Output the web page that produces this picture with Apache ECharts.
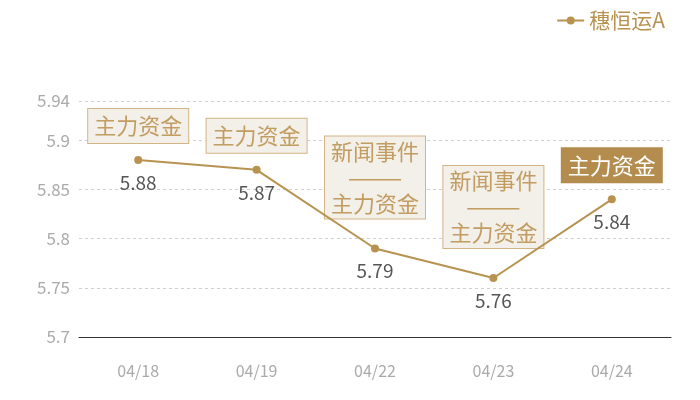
<!DOCTYPE html>
<html>
<head>
<meta charset="utf-8">
<script src="https://cdn.jsdelivr.net/npm/echarts@6/dist/echarts.min.js"></script>
<style>
  html, body { margin: 0; padding: 0; background: #fff; }
  #main { width: 700px; height: 400px; }
</style>
</head>
<body>
<div id="main"></div>
<script>
const dates = ['04/18', '04/19', '04/22', '04/23', '04/24'];
const prices = [5.88, 5.87, 5.79, 5.76, 5.84];
const notes = ['主力资金', '主力资金', '新闻事件\n———\n主力资金', '新闻事件\n———\n主力资金', '主力资金'];
const highlighted = [false, false, false, false, true];

const gold = '#b8924f';
const font = '"Noto Sans CJK SC", "Noto Sans", sans-serif';

// annotation boxes sit above each point
const noteData = prices.map((v, i) => {
    const multi = notes[i].indexOf('\n') >= 0;
    return {
        value: v,
        label: {
            formatter: notes[i],
            distance: multi ? 30 : 17,
            color: highlighted[i] ? '#fff' : '#c29c60',
            backgroundColor: highlighted[i] ? '#b38c4e' : '#f3f0ea',
            borderColor: highlighted[i] ? '#b38c4e' : '#d2b486',
            lineHeight: multi ? 26 : 30
        }
    };
});

const myChart = echarts.init(document.getElementById('main'));
const option = {
    animation: false,
    textStyle: { fontFamily: font },
    legend: {
        data: ['穗恒运A'],
        right: 30,
        top: 5,
        itemWidth: 27,
        itemHeight: 10,
        itemGap: 6,
        textStyle: { color: gold, fontSize: 21, fontFamily: font }
    },
    grid: { left: 79, right: 29, top: 101, bottom: 63 },
    xAxis: {
        type: 'category',
        data: dates,
        boundaryGap: true,
        axisLine: { lineStyle: { color: '#333', width: 1 } },
        axisTick: { show: false },
        axisLabel: { color: '#aaa', fontSize: 16, margin: 26, fontFamily: font }
    },
    yAxis: {
        type: 'value',
        min: 5.7,
        max: 5.94,
        interval: 0.05,
        axisLine: { show: false },
        axisTick: { show: false },
        axisLabel: {
            color: '#aaa', fontSize: 17, margin: 9, fontFamily: font,
            showMaxLabel: true
        },
        splitLine: { lineStyle: { color: '#d0d0d0', type: [3, 3] } }
    },
    series: [
        {
            name: '穗恒运A',
            type: 'line',
            data: prices,
            symbol: 'circle',
            symbolSize: 8,
            color: gold,
            lineStyle: { color: gold, width: 2 },
            itemStyle: { color: gold },
            label: {
                show: true,
                position: 'bottom',
                distance: 9,
                color: '#555',
                fontSize: 19,
                fontFamily: font
            }
        },
        {
            name: 'notes',
            type: 'scatter',
            data: noteData,
            symbolSize: 0,
            silent: true,
            itemStyle: { opacity: 1 },
            label: {
                show: true,
                position: 'top',
                fontSize: 22,
                fontFamily: font,
                opacity: 1,
                borderWidth: 1,
                padding: [2, 6, 2, 6]
            }
        }
    ]
};
myChart.setOption(option);
</script>
</body>
</html>
